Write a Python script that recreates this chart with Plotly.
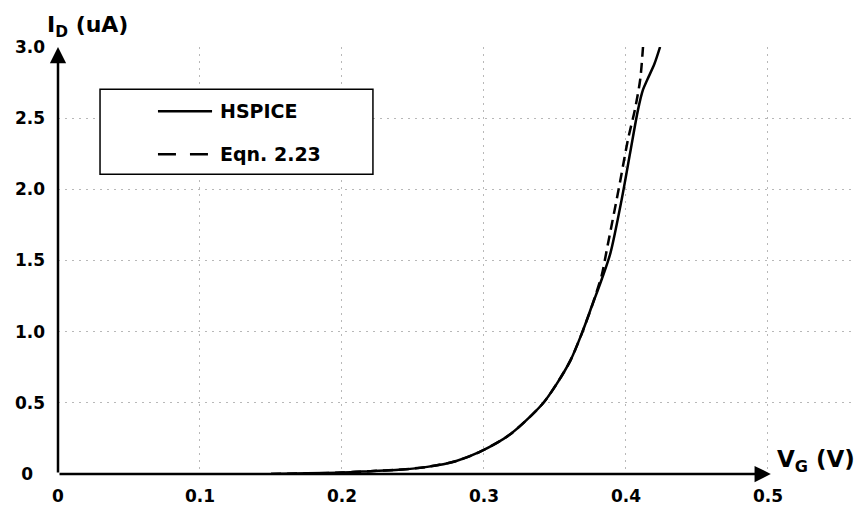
import plotly.graph_objects as go

# HSPICE simulation (solid)
vg_hspice = [0.15, 0.20, 0.22, 0.24, 0.26, 0.28, 0.297, 0.318, 0.341, 0.351, 0.361,
             0.369, 0.376, 0.383, 0.389, 0.397, 0.403, 0.4085, 0.412, 0.415, 0.420, 0.424]
id_hspice = [0.0, 0.01, 0.02, 0.03, 0.05, 0.09, 0.155, 0.275, 0.49, 0.63, 0.80,
             0.99, 1.18, 1.37, 1.55, 1.93, 2.26, 2.56, 2.70, 2.77, 2.88, 3.0]

# Eqn. 2.23 model (dashed)
vg_eqn = [0.15, 0.20, 0.22, 0.24, 0.26, 0.28, 0.297, 0.318, 0.341, 0.351, 0.361,
          0.369, 0.376, 0.383, 0.3866, 0.3958, 0.4014, 0.4063, 0.410, 0.412]
id_eqn = [0.0, 0.01, 0.02, 0.03, 0.05, 0.09, 0.155, 0.275, 0.49, 0.63, 0.80,
          0.99, 1.18, 1.40, 1.58, 2.05, 2.35, 2.56, 2.77, 3.0]

x_ticks = [0, 0.1, 0.2, 0.3, 0.4, 0.5]
x_ticktext = ["0", "0.1", "0.2", "0.3", "0.4", "0.5"]
y_ticks = [0, 0.5, 1.0, 1.5, 2.0, 2.5, 3.0]
y_ticktext = ["0\u00a0\u00a0", "0.5", "1.0", "1.5", "2.0", "2.5", "3.0"]

legend_names = ["HSPICE", "Eqn. 2.23"]

FONT = "DejaVu Sans"

fig = go.Figure()
fig.add_trace(go.Scatter(x=vg_hspice, y=id_hspice, mode="lines", name=legend_names[0],
                         line=dict(color="black", width=2.5, shape="spline", smoothing=0.8),
                         showlegend=False))
fig.add_trace(go.Scatter(x=vg_eqn, y=id_eqn, mode="lines", name=legend_names[1],
                         line=dict(color="black", width=2.5, dash="10px,6px",
                                   shape="spline", smoothing=0.8),
                         showlegend=False))

grid = dict(showgrid=True, gridcolor="#b8b8b8", griddash="2px,5px", gridwidth=1.3)
fig.update_xaxes(range=[0, 0.5613], tickmode="array", tickvals=x_ticks, ticktext=x_ticktext,
                 showline=False, zeroline=False, ticks="", ticklabelstandoff=10,
                 automargin=False,
                 tickfont=dict(family=FONT, size=17, color="black", weight="bold"), **grid)
fig.update_yaxes(range=[0, 3.0], tickmode="array", tickvals=y_ticks, ticktext=y_ticktext,
                 showline=False, zeroline=False, ticks="", ticklabelstandoff=12,
                 automargin=False,
                 tickfont=dict(family=FONT, size=17, color="black", weight="bold"), **grid)

# axis arrows
fig.add_annotation(x=0.502, y=0, ax=0, ay=0, xref="x", yref="y", axref="x", ayref="y",
                   text="", showarrow=True, arrowhead=2, arrowsize=1.3, arrowwidth=2.5,
                   arrowcolor="black")
fig.add_annotation(x=0, y=3.0, ax=0, ay=0, xref="x", yref="y", axref="x", ayref="y",
                   text="", showarrow=True, arrowhead=2, arrowsize=1.3, arrowwidth=2.5,
                   arrowcolor="black")

# axis titles
fig.add_annotation(x=-0.0163, y=1.047, xref="paper", yref="paper", xanchor="left",
                   yanchor="middle", text="I<sub>D</sub> (uA)", showarrow=False,
                   font=dict(family=FONT, size=22, color="black", weight="bold"))
fig.add_annotation(x=0.8996, y=0.03, xref="paper", yref="paper", xanchor="left",
                   yanchor="middle", text="V<sub>G</sub> (V)", showarrow=False,
                   font=dict(family=FONT, size=23, color="black", weight="bold"))

# legend box (drawn manually to match the reference layout)
fig.add_shape(type="rect", x0=0.0296, x1=0.2218, y0=2.106, y1=2.704, xref="x", yref="y",
              line=dict(color="black", width=1.5), fillcolor="white", layer="above")
fig.add_shape(type="line", x0=0.0704, x1=0.1085, y0=2.549, y1=2.549, xref="x", yref="y",
              line=dict(color="black", width=2.5), layer="above")
fig.add_shape(type="line", x0=0.0704, x1=0.1085, y0=2.246, y1=2.246, xref="x", yref="y",
              line=dict(color="black", width=2.5, dash="18px,14px"), layer="above")
fig.add_annotation(x=0.1127, y=2.549, xref="x", yref="y", xanchor="left", yanchor="middle",
                   text=legend_names[0], showarrow=False,
                   font=dict(family=FONT, size=19, color="black", weight="bold"))
fig.add_annotation(x=0.1127, y=2.246, xref="x", yref="y", xanchor="left", yanchor="middle",
                   text=legend_names[1], showarrow=False,
                   font=dict(family=FONT, size=19, color="black", weight="bold"))

# page body has an 8px margin, so the figure is sized/margined to land the plot area
# at the reference's pixel positions
fig.update_layout(width=855, height=497, margin=dict(l=50, r=8, t=39, b=31),
                  plot_bgcolor="white", paper_bgcolor="white", showlegend=False)

fig.write_html("out.html")
